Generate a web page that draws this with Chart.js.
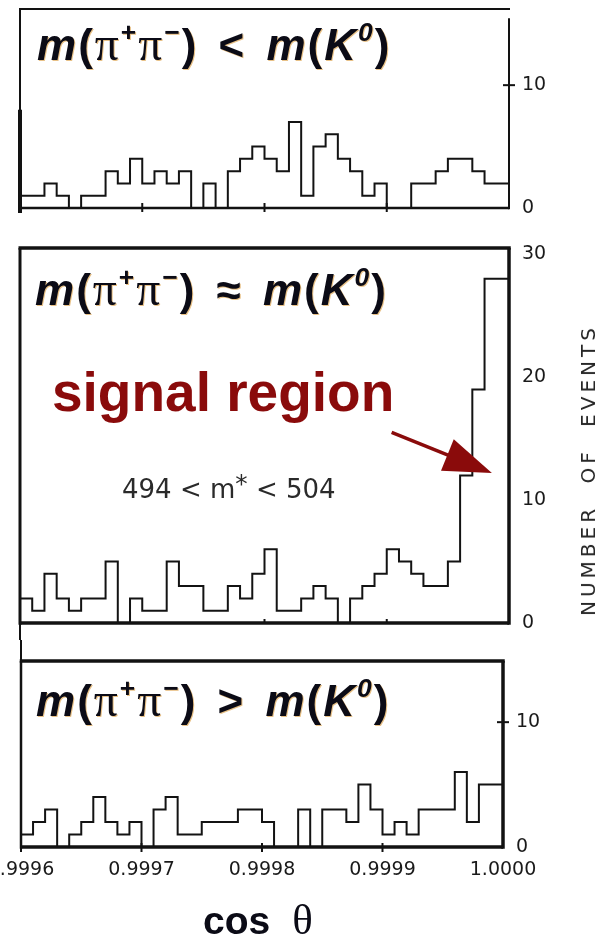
<!DOCTYPE html>
<html>
<head>
<meta charset="utf-8">
<script src="https://cdn.jsdelivr.net/npm/chart.js@4.4.1/dist/chart.umd.min.js"></script>
<style>
  body { margin: 0; background: #fff; }
  #page { position: relative; width: 599px; height: 938px; overflow: hidden; background: #fff; }
  canvas { position: absolute; left: 0; }
  .ttl { position: absolute; font: bold 44px/44px "Liberation Sans", Arial, sans-serif; color: #0b0b16;
         letter-spacing: 2px; word-spacing: 6px;
         white-space: nowrap; text-shadow: 1px 1px 0 rgba(214, 142, 36, 0.55); }
  .ttl .pi { font-family: "Liberation Serif", serif; font-weight: normal; font-size: 1.08em; }
  .ttl sup { font-size: 0.6em; vertical-align: 0; position: relative; top: -0.72em; line-height: 0; }
  .signal { position: absolute; left: 52px; top: 365px; font: bold 55px/55px "Liberation Sans", Arial, sans-serif;
            color: #8a0b0b; white-space: nowrap; }
  .cut { position: absolute; left: 122px; top: 476px; font: 26px/26px "DejaVu Sans", sans-serif; color: #2a2a2a;
         white-space: nowrap; }
  .cut sup { font-size: 0.95em; vertical-align: 0; position: relative; top: -0.25em; line-height: 0; }
  .yname { position: absolute; left: 588px; top: 470px; transform: translate(-50%, -50%) rotate(-90deg);
           font: 20px/20px "DejaVu Sans", sans-serif; letter-spacing: 4px; word-spacing: 11px; color: #262626; white-space: nowrap; }
  .xname { position: absolute; left: 203px; top: 900px; font: bold 39px/39px "Liberation Sans", Arial, sans-serif;
           color: #0b0b16; white-space: nowrap; }
  .xname .th { font-family: "Liberation Serif", serif; font-weight: normal; font-size: 1.1em; margin-left: 22px; }
</style>
</head>
<body>
<div id="page">
  <canvas id="lowPanel" width="599" height="240" style="top:0px"></canvas>
  <canvas id="signalPanel" width="599" height="400" style="top:240px"></canvas>
  <canvas id="highPanel" width="599" height="298" style="top:640px"></canvas>

  <div class="ttl" style="left:37px;top:22px"><i>m</i>(<span class="pi">π</span><sup>+</sup><span class="pi">π</span><sup>−</sup>) &lt; <i>m</i>(<i>K</i><sup><i>0</i></sup>)</div>
  <div class="ttl" style="left:35px;top:267px"><i>m</i>(<span class="pi">π</span><sup>+</sup><span class="pi">π</span><sup>−</sup>) ≈ <i>m</i>(<i>K</i><sup><i>0</i></sup>)</div>
  <div class="ttl" style="left:36px;top:678px"><i>m</i>(<span class="pi">π</span><sup>+</sup><span class="pi">π</span><sup>−</sup>) &gt; <i>m</i>(<i>K</i><sup><i>0</i></sup>)</div>
  <div class="signal">signal region</div>
  <div class="cut">494 &lt; m<sup>*</sup> &lt; 504</div>
  <div class="yname">NUMBER OF EVENTS</div>
  <div class="xname">cos<span class="th">θ</span></div>
</div>

<script>
// cos(theta) axis: 40 bins of 0.00001 from 0.9996 to 1.0000
const binTicks = [0, 10, 20, 30, 40];
const binLabels = ['0.9996', '0.9997', '0.9998', '0.9999', '1.0000'];

// events per bin
const lowCounts = [1, 1, 1, 2, 1, 0, 1, 1, 3, 2, 4, 2, 3, 2, 3, 0, 2, 0, 3, 4,
                   5, 4, 3, 7, 1, 5, 6, 4, 3, 1, 2, 0, 0, 2, 2, 3, 4, 4, 3, 2];
const signalCounts = [1, 2, 1, 4, 2, 1, 2, 2, 5, 0, 2, 1, 1, 5, 3, 3, 1, 1, 3, 2,
                      4, 6, 1, 1, 2, 3, 2, 0, 2, 3, 4, 6, 5, 4, 3, 3, 5, 12, 19, 28];
const highCounts = [0, 1, 2, 3, 0, 1, 2, 4, 2, 1, 2, 0, 3, 4, 1, 1, 2, 2, 2, 3,
                    3, 2, 0, 0, 3, 0, 3, 3, 2, 5, 3, 1, 2, 1, 3, 3, 3, 6, 2, 5];

const lowTicks = [0, 10];
const signalTicks = [0, 10, 20, 30];
const highTicks = [0, 10];

const tickFont = { family: 'DejaVu Sans', size: 19 };

function stepPoints(counts) {
  let pts = counts.map((c, i) => ({ x: i, y: c }));
  pts.push({ x: counts.length, y: counts[counts.length - 1] });
  return pts;
}

// draws the box, the little axis ticks and the joining lines
function framePlugin(f) {
  return {
    id: 'panelFrame',
    afterDatasetsDraw(chart) {
      let ctx = chart.ctx, a = chart.chartArea, x = chart.scales.x, y = chart.scales.y;
      let seg = (x1, y1, x2, y2, w) => {
        ctx.lineWidth = w;
        ctx.beginPath();
        ctx.moveTo(x1, y1);
        ctx.lineTo(x2, y2);
        ctx.stroke();
      };
      ctx.save();
      ctx.strokeStyle = '#121212';
      if (f.top) seg(a.left - f.left / 2, a.top, a.right + f.right / 2, a.top, f.top);
      if (f.right) {
        let from = f.rightFrom != null ? y.getPixelForValue(f.rightFrom) : a.top;
        seg(a.right, from, a.right, a.bottom + f.bottom / 2, f.right);
      }
      if (f.bottom) seg(a.left, a.bottom, a.right, a.bottom, f.bottom);
      if (f.left) seg(a.left, a.top, a.left, a.bottom + f.bottom / 2, f.left);
      if (f.leftThick != null) seg(a.left, y.getPixelForValue(f.leftThick), a.left, a.bottom + 5, 4);
      if (f.above) seg(a.left, 0, a.left, a.top, 2);
      if (f.below) seg(a.left, a.bottom, a.left, chart.height, 2);
      (f.xTicks || []).forEach(v => {
        let px = x.getPixelForValue(v);
        seg(px, a.bottom - f.tickUp, px, a.bottom + f.tickDown, 2);
      });
      (f.yTicks || []).forEach(v => {
        let py = y.getPixelForValue(v);
        seg(a.right - 6, py, a.right + 6, py, 2);
      });
      ctx.restore();
    }
  };
}

// arrow pointing at the signal peak, placed in data units
const arrowTail = { x: 30.4, y: 15.5 };
const arrowTip = { x: 38.6, y: 12.2 };
const arrowPlugin = {
  id: 'signalArrow',
  afterDatasetsDraw(chart) {
    let ctx = chart.ctx, x = chart.scales.x, y = chart.scales.y;
    let x0 = x.getPixelForValue(arrowTail.x), y0 = y.getPixelForValue(arrowTail.y);
    let x1 = x.getPixelForValue(arrowTip.x), y1 = y.getPixelForValue(arrowTip.y);
    let len = Math.hypot(x1 - x0, y1 - y0), ux = (x1 - x0) / len, uy = (y1 - y0) / len;
    let bx = x1 - ux * 48, by = y1 - uy * 48;
    ctx.save();
    ctx.strokeStyle = '#8a0b0b';
    ctx.fillStyle = '#8a0b0b';
    ctx.lineWidth = 3.5;
    ctx.beginPath();
    ctx.moveTo(x0, y0);
    ctx.lineTo(bx + ux * 4, by + uy * 4);
    ctx.stroke();
    ctx.beginPath();
    ctx.moveTo(x1, y1);
    ctx.lineTo(bx - uy * 17, by + ux * 17);
    ctx.lineTo(bx + uy * 17, by - ux * 17);
    ctx.closePath();
    ctx.fill();
    ctx.restore();
  }
};

function makePanel(id, counts, yMax, yTicks, padding, showX, extra) {
  return new Chart(document.getElementById(id), {
    type: 'line',
    data: {
      datasets: [{
        data: stepPoints(counts),
        stepped: 'after',
        borderColor: '#131313',
        borderWidth: 2,
        pointRadius: 0,
        fill: false
      }]
    },
    options: {
      responsive: false,
      animation: false,
      layout: { padding: padding },
      plugins: { legend: { display: false }, tooltip: { enabled: false } },
      scales: {
        x: {
          type: 'linear', min: 0, max: 40, display: showX,
          grid: { display: false, drawTicks: false }, border: { display: false },
          afterBuildTicks: s => { s.ticks = binTicks.map(v => ({ value: v })); },
          ticks: {
            callback: v => binLabels[binTicks.indexOf(v)],
            maxRotation: 0, autoSkip: false, padding: 12, color: '#1a1a1a', font: tickFont
          },
          afterFit: s => { s.height = showX ? 40 : 0; s.paddingLeft = 0; s.paddingRight = 0; }
        },
        y: {
          position: 'right', min: 0, max: yMax,
          grid: { display: false, drawTicks: false }, border: { display: false },
          afterBuildTicks: s => { s.ticks = yTicks.map(v => ({ value: v })); },
          ticks: { callback: v => String(v), padding: 13, color: '#1a1a1a', font: tickFont },
          afterFit: s => { s.width = 50; s.paddingTop = 0; s.paddingBottom = 0; }
        }
      }
    },
    plugins: extra
  });
}

makePanel('lowPanel', lowCounts, 16.2, lowTicks,
  { left: 20, right: 40, top: 9, bottom: 32 }, false,
  [framePlugin({ top: 2, right: 2, bottom: 2.5, left: 2, rightFrom: 15.45, leftThick: 8,
                 xTicks: [10, 20, 30], tickUp: 5, tickDown: 4, yTicks: [10] })]);

makePanel('signalPanel', signalCounts, 30.5, signalTicks,
  { left: 20, right: 40, top: 8, bottom: 17 }, false,
  [framePlugin({ top: 3.5, right: 3.5, bottom: 3.5, left: 3, below: true,
                 xTicks: [20, 30], tickUp: 4, tickDown: 0 }), arrowPlugin]);

makePanel('highPanel', highCounts, 14.9, highTicks,
  { left: 21, right: 46, top: 21, bottom: 51 }, true,
  [framePlugin({ top: 3.5, right: 3.5, bottom: 3.5, left: 2.5, above: true,
                 xTicks: [0, 10, 20, 30], tickUp: 4, tickDown: 5, yTicks: [10] })]);
</script>
</body>
</html>
